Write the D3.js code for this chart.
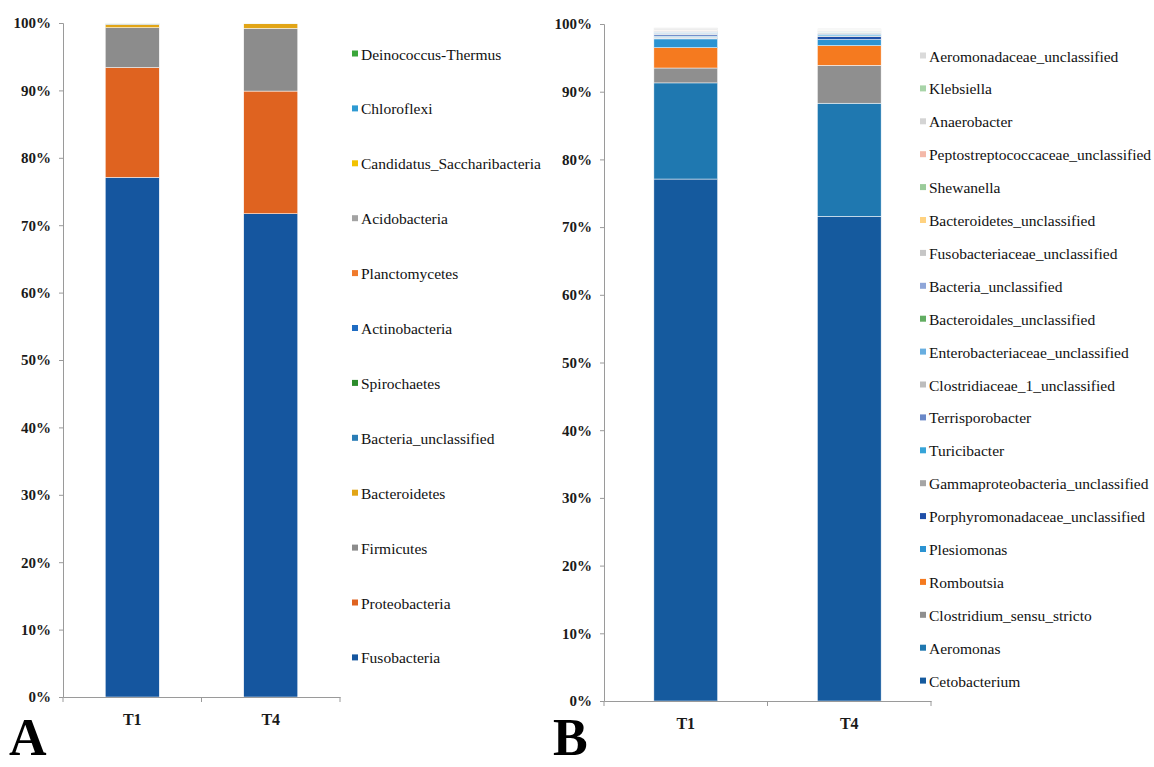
<!DOCTYPE html>
<html>
<head>
<meta charset="utf-8">
<script src="https://cdn.jsdelivr.net/npm/d3@7"></script>
<style>
  html, body { margin: 0; padding: 0; background: #fff; }
  svg { display: block; }
  text { font-family: "Liberation Serif", "Times New Roman", serif; }
</style>
</head>
<body>
<svg id="chart" width="1154" height="767"></svg>
<script>
// ---- Panel A: phylum level (stack order bottom -> top) ----
const samples = ["T1", "T4"];

const phyla = [
  "Fusobacteria", "Proteobacteria", "Firmicutes", "Bacteroidetes",
  "Bacteria_unclassified", "Spirochaetes", "Actinobacteria", "Planctomycetes",
  "Acidobacteria", "Candidatus_Saccharibacteria", "Chloroflexi", "Deinococcus-Thermus"
];
const phylaT1 = [77.1, 16.3, 5.9, 0.5, 0.08, 0.04, 0.03, 0.02, 0.01, 0.01, 0.005, 0.005];
const phylaT4 = [71.7, 18.2, 9.3, 0.7, 0.04, 0.02, 0.01, 0.01, 0.005, 0.005, 0.0025, 0.0025];
const phylaColors = [
  "#15569f", "#df6320", "#8c8c8c", "#e2a516",
  "#2a7db6", "#2c8c2c", "#1f6cc2", "#f07a2c",
  "#a3a3a3", "#f2c200", "#2e9ad2", "#3aa63a"
];

// ---- Panel B: genus level (stack order bottom -> top) ----
const genera = [
  "Cetobacterium", "Aeromonas", "Clostridium_sensu_stricto", "Romboutsia",
  "Plesiomonas", "Porphyromonadaceae_unclassified", "Gammaproteobacteria_unclassified",
  "Turicibacter", "Terrisporobacter", "Clostridiaceae_1_unclassified",
  "Enterobacteriaceae_unclassified", "Bacteroidales_unclassified", "Bacteria_unclassified",
  "Fusobacteriaceae_unclassified", "Bacteroidetes_unclassified", "Shewanella",
  "Peptostreptococcaceae_unclassified", "Anaerobacter", "Klebsiella", "Aeromonadaceae_unclassified"
];
const generaT1 = [77.1, 14.2, 2.2, 3.0, 1.3, 0.1, 0.15, 0.15, 0.25, 0.15,
                  0.15, 0.03, 0.12, 0.15, 0.03, 0.02, 0.03, 0.15, 0.02, 0.15];
const generaT4 = [71.6, 16.7, 5.6, 2.9, 0.9, 0.45, 0.1, 0.2, 0.1, 0.15,
                  0.1, 0.02, 0.08, 0.15, 0.02, 0.02, 0.02, 0.1, 0.02, 0.1];
const generaColors = [
  "#155a9e", "#1f78b0", "#8f8f8f", "#f57a1f",
  "#2b93d2", "#1f4fa8", "#a5a5a5",
  "#36a4d8", "#6a88c8", "#bdbdbd",
  "#68aee0", "#62ad62", "#8fa6d8",
  "#c6c6c6", "#ffd280", "#9acb9a",
  "#f4b8a8", "#d4d4d4", "#a8d4a8", "#dadada"
];

const yTicks = [0, 10, 20, 30, 40, 50, 60, 70, 80, 90, 100];

const svg = d3.select("#chart");

function drawPanel(opt) {
  const { names, seriesBySample, colors, x0, x1, yBottom, yTop,
          legendX, legendY0, legendStep, letter, letterX } = opt;

  const g = svg.append("g");

  const x = d3.scaleBand()
    .domain(samples)
    .range([x0, x1])
    .paddingInner(0.61)
    .paddingOuter(0.305);

  const y = d3.scaleLinear().domain([0, 100]).range([yBottom, yTop]);

  // table: one row per sample, one column per taxon
  const rows = samples.map((s, i) => {
    const r = { sample: s };
    names.forEach((n, j) => { r[n] = seriesBySample[i][j]; });
    return r;
  });
  const stacked = d3.stack().keys(names)(rows);

  g.append("g")
    .selectAll("g")
    .data(stacked)
    .join("g")
    .attr("fill", (d, i) => colors[i])
    .selectAll("rect")
    .data(d => d)
    .join("rect")
    .attr("x", d => x(d.data.sample))
    .attr("width", x.bandwidth())
    .attr("y", d => y(d[1]))
    .attr("height", d => Math.max(0, y(d[0]) - y(d[1])))
    .attr("stroke", "#ffffff")
    .attr("stroke-width", 0.5);

  // y axis
  const yAxis = g.append("g")
    .attr("transform", `translate(${x0},0)`)
    .call(d3.axisLeft(y).tickValues(yTicks).tickFormat(d => d + "%").tickSize(4).tickPadding(8));
  yAxis.select(".domain").attr("stroke", "#9a9a9a");
  yAxis.selectAll(".tick line").attr("stroke", "#9a9a9a");
  yAxis.selectAll(".tick text")
    .attr("fill", "#1a1a1a")
    .style("font-size", "15px")
    .style("font-weight", "bold")
    .style("font-family", "'Liberation Serif', serif");

  // x axis: baseline with ticks at the category boundaries
  const xAxis = g.append("g")
    .attr("transform", `translate(0,${yBottom})`)
    .call(d3.axisBottom(x).tickSize(0).tickPadding(17));
  xAxis.select(".domain").attr("stroke", "#9a9a9a");
  xAxis.selectAll(".tick text")
    .attr("fill", "#1a1a1a")
    .style("font-size", "16px")
    .style("font-weight", "bold")
    .style("font-family", "'Liberation Serif', serif");

  const bounds = d3.range(samples.length + 1).map(i => x.range()[0] + i * x.step());
  g.append("g").selectAll("line")
    .data(bounds)
    .join("line")
    .attr("x1", d => d).attr("x2", d => d)
    .attr("y1", yBottom).attr("y2", yBottom + 5)
    .attr("stroke", "#9a9a9a");

  // legend, listed top -> bottom in reverse stack order
  const legendItems = names.map((n, i) => ({ name: n, color: colors[i] })).reverse();
  const lg = g.append("g")
    .selectAll("g")
    .data(legendItems)
    .join("g")
    .attr("transform", (d, i) => `translate(${legendX},${legendY0 + i * legendStep})`);
  lg.append("rect")
    .attr("x", 0).attr("y", -3.5)
    .attr("width", 6).attr("height", 6)
    .attr("fill", d => d.color);
  lg.append("text")
    .attr("x", 9).attr("y", 0)
    .attr("dominant-baseline", "central")
    .attr("fill", "#111")
    .style("font-size", "15.5px")
    .text(d => d.name);

  // panel letter
  svg.append("text")
    .attr("x", letterX).attr("y", 755)
    .style("font-size", "52px")
    .style("font-weight", "bold")
    .attr("fill", "#000")
    .text(letter);
}

drawPanel({
  names: phyla,
  seriesBySample: [phylaT1, phylaT4],
  colors: phylaColors,
  x0: 63, x1: 340, yBottom: 697, yTop: 23,
  legendX: 352, legendY0: 54, legendStep: 54.9,
  letter: "A", letterX: 9
});

drawPanel({
  names: genera,
  seriesBySample: [generaT1, generaT4],
  colors: generaColors,
  x0: 604, x1: 931, yBottom: 701, yTop: 24,
  legendX: 920, legendY0: 56, legendStep: 32.9,
  letter: "B", letterX: 553
});
</script>
</body>
</html>
